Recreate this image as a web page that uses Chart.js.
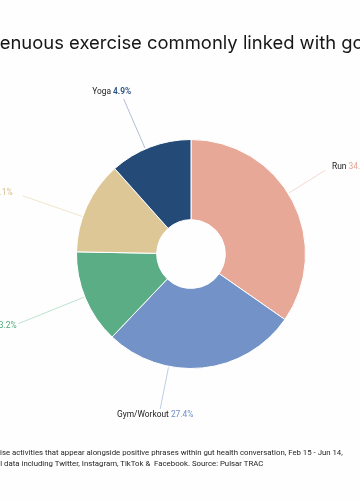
<!DOCTYPE html>
<html>
<head>
<meta charset="utf-8">
<script src="https://cdn.jsdelivr.net/npm/chart.js@4.4.0/dist/chart.umd.min.js"></script>
<style>
  html, body { margin: 0; padding: 0; background: #fdfefd; overflow: hidden; }
  #wrap { position: relative; width: 360px; height: 500px; overflow: hidden; background: #fdfefd; }
  #chartBox { position: absolute; left: 0; top: 0; width: 360px; height: 500px; }
  #title { position: absolute; top: 31px; white-space: nowrap; font-family: Inter, "Noto Sans", sans-serif; color: #161616; font-weight: 400; }
  .note { position: absolute; white-space: pre; font-family: Roboto, "Liberation Sans", sans-serif; color: #1e1e1e; }
</style>
</head>
<body>
<div id="wrap">
  <div id="chartBox"><canvas id="c"></canvas></div>
  <div id="title"></div>
  <div id="note1" class="note"></div>
  <div id="note2" class="note"></div>
</div>
<script>
// ---- data ----
const titleText = 'Strenuous exercise commonly linked with good gut health';
const noteLine1 = 'Exercise activities that appear alongside positive phrases within gut health conversation, Feb 15 - Jun 14,';
const noteLine2 = 'Social data including Twitter, Instagram, TikTok &  Facebook. Source: Pulsar TRAC';
const categories = ['Run', 'Gym/Workout', 'Walk', 'Cycle', 'Yoga'];
const sliceValues = [34.7, 27.4, 13.2, 13.1, 11.6];
const labelPercents = ['34.7%', '27.4%', '13.2%', '13.1%', '4.9%'];

// ---- styles ----
const sliceColors = ['#e8a898', '#7393c8', '#5aad85', '#dec797', '#244a78'];
const pctColors   = ['#e6a292', '#6f8fc8', '#4fa87c', '#d8bd88', '#2a4f85'];
const lineColors  = ['#f4d6ce', '#b8c8e6', '#b6dfcb', '#efe2c6', '#aab8cc'];
// leader-line placement per slice: angle shift (deg), outer radius, text align, text dx/dy
const labelPlace = [
  { da: -4.4, r: 158, align: 'left',   dx: 7,   dy: -4 },
  { da: 17,   r: 158, align: 'center', dx: -5,  dy: 6 },
  { da: 0.7,  r: 186, align: 'right',  dx: -2,  dy: 2 },
  { da: -5.6, r: 178, align: 'right',  dx: -10, dy: -3 },
  { da: -2.6, r: 169, align: 'center', dx: -12, dy: -7 }
];

// ---- html text fitting ----
function measure(text, font) {
  const cv = document.createElement('canvas').getContext('2d');
  cv.font = font; return cv.measureText(text).width;
}
(function () {
  const tFam = 'Inter, "Noto Sans", sans-serif';
  const visible = 'enuous exercise commonly linked with g';
  const w10 = measure(visible, '400 10px ' + tFam);
  const size = 10 * 353 / w10;
  const t = document.getElementById('title');
  t.textContent = titleText;
  t.style.fontSize = size + 'px';
  t.style.left = (-measure('Str', '400 ' + size + 'px ' + tFam)) + 'px';

  const nFam = 'Roboto, "Liberation Sans", sans-serif';
  const part = noteLine1.slice(5);
  const nw = measure(part, '400 10px ' + nFam);
  const ns = 10 * 343 / nw;
  const left = -measure('Exerc', '400 ' + ns + 'px ' + nFam);
  const n1 = document.getElementById('note1');
  const n2 = document.getElementById('note2');
  n1.textContent = noteLine1; n2.textContent = noteLine2;
  [n1, n2].forEach((n, i) => {
    n.style.fontSize = ns + 'px';
    n.style.left = left + 'px';
    n.style.top = (447 + i * 10.5) + 'px';
    n.style.lineHeight = '11px';
  });
})();

// ---- label plugin ----
const leaderLabels = {
  id: 'leaderLabels',
  afterDatasetsDraw(chart) {
    const ctx = chart.ctx;
    const meta = chart.getDatasetMeta(0);
    meta.data.forEach((arc, i) => {
      const p = labelPlace[i];
      const mid = (arc.startAngle + arc.endAngle) / 2 + p.da * Math.PI / 180;
      const r0 = arc.outerRadius + 1;
      const x0 = arc.x + r0 * Math.cos(mid), y0 = arc.y + r0 * Math.sin(mid);
      const x1 = arc.x + p.r * Math.cos(mid), y1 = arc.y + p.r * Math.sin(mid);
      ctx.save();
      ctx.strokeStyle = lineColors[i];
      ctx.lineWidth = 0.9;
      ctx.beginPath(); ctx.moveTo(x0, y0); ctx.lineTo(x1, y1); ctx.stroke();

      const nameFont = '400 8.4px Roboto, "Liberation Sans", sans-serif';
      const pctFont = (i === 4 ? '600 ' : '400 ') + '8.4px Roboto, "Liberation Sans", sans-serif';
      const name = categories[i] + ' ';
      const pct = labelPercents[i];
      ctx.font = nameFont; const wn = ctx.measureText(name).width;
      ctx.font = pctFont; const wp = ctx.measureText(pct).width;
      const total = wn + wp;
      let tx = x1 + p.dx;
      if (p.align === 'center') tx -= total / 2;
      else if (p.align === 'right') tx -= total;
      const ty = y1 + p.dy;
      ctx.textBaseline = 'middle';
      ctx.textAlign = 'left';
      ctx.font = nameFont; ctx.fillStyle = '#1c1c1c'; ctx.fillText(name, tx, ty);
      ctx.font = pctFont; ctx.fillStyle = pctColors[i]; ctx.fillText(pct, tx + wn, ty);
      ctx.restore();
    });
  }
};

new Chart(document.getElementById('c'), {
  type: 'doughnut',
  data: {
    labels: categories,
    datasets: [{
      data: sliceValues,
      backgroundColor: sliceColors,
      borderColor: '#ffffff',
      borderWidth: 1
    }]
  },
  options: {
    responsive: true,
    maintainAspectRatio: false,
    animation: false,
    cutout: '30%',
    layout: { padding: { left: 76, right: 54, top: 139, bottom: 131 } },
    plugins: { legend: { display: false }, tooltip: { enabled: false }, title: { display: false } }
  },
  plugins: [leaderLabels]
});
</script>
</body>
</html>
